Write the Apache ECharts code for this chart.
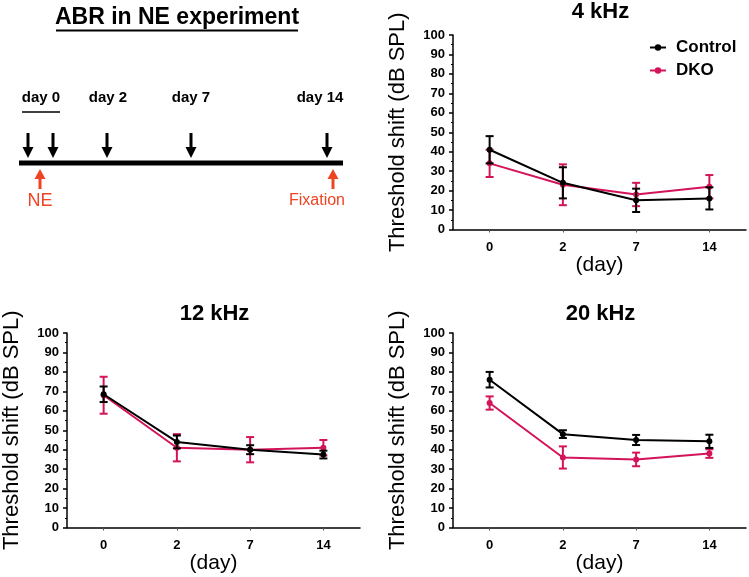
<!DOCTYPE html>
<html>
<head>
<meta charset="utf-8">
<script src="https://cdn.jsdelivr.net/npm/echarts@6/dist/echarts.min.js"></script>
<style>
html,body{margin:0;padding:0;background:#fff;}
#chart{width:749px;height:577px;}
</style>
</head>
<body>
<div id="chart"></div>
<script>
// ---- data ----
var days = ['0', '2', '7', '14'];
var yTicks = [0, 10, 20, 30, 40, 50, 60, 70, 80, 90, 100];
var panelTitles = ['4 kHz', '12 kHz', '20 kHz'];
var seriesNames = ['Control', 'DKO'];

var ctrl4 = [41, 24, 15, 16];
var ctrl4Err = [7, 8, 6, 5.7];
var dko4 = [34, 23, 18, 22];
var dko4Err = [7, 10.5, 6, 6];

var ctrl12 = [68.5, 44, 40, 37.5];
var ctrl12Err = [4, 3.3, 2.3, 2];
var dko12 = [68, 41, 40, 41];
var dko12Err = [9.5, 7, 6.5, 4];

var ctrl20 = [76, 48, 45, 44.3];
var ctrl20Err = [4, 2, 2.6, 3.4];
var dko20 = [64, 36, 35, 38];
var dko20Err = [3.4, 5.7, 3.5, 2.2];

var timelineLabels = ['day 0', 'day 2', 'day 7', 'day 14'];
// ---- end data ----

var BLACK = '#000000';
var PINK = '#d4145a';
var RED = '#ee4422';
var FONT = '"Liberation Sans", Arial, sans-serif';

var panels = [
  { title: panelTitles[0], ctrl: ctrl4, ctrlErr: ctrl4Err, dko: dko4, dkoErr: dko4Err, left: 453, top: 35, titleTop: 1 },
  { title: panelTitles[1], ctrl: ctrl12, ctrlErr: ctrl12Err, dko: dko12, dkoErr: dko12Err, left: 67, top: 333, titleTop: 303 },
  { title: panelTitles[2], ctrl: ctrl20, ctrlErr: ctrl20Err, dko: dko20, dkoErr: dko20Err, left: 453, top: 333, titleTop: 303 }
];

function errData(vals, errs) {
  return vals.map(function (v, i) { return [i, v - errs[i], v + errs[i]]; });
}

function errRender(color) {
  return function (params, api) {
    var x = api.value(0);
    var lo = api.coord([x, api.value(1)]);
    var hi = api.coord([x, api.value(2)]);
    var w = 4;
    var st = { stroke: color, lineWidth: 2 };
    return {
      type: 'group',
      children: [
        { type: 'line', shape: { x1: lo[0], y1: lo[1], x2: hi[0], y2: hi[1] }, style: st },
        { type: 'line', shape: { x1: lo[0] - w, y1: lo[1], x2: lo[0] + w, y2: lo[1] }, style: st },
        { type: 'line', shape: { x1: hi[0] - w, y1: hi[1], x2: hi[0] + w, y2: hi[1] }, style: st }
      ]
    };
  };
}

var grids = [], xAxes = [], yAxes = [], series = [], titles = [];
panels.forEach(function (p, k) {
  grids.push({ left: p.left, top: p.top, width: 293, height: 194.5 });
  xAxes.push({
    type: 'category', gridIndex: k, data: days, boundaryGap: true,
    name: '(day)', nameLocation: 'middle', nameGap: 25,
    nameTextStyle: { fontFamily: FONT, fontSize: 21, color: '#000' },
    axisLine: { lineStyle: { color: '#000', width: 1.5 } },
    axisTick: { show: true, alignWithLabel: true, length: 3, lineStyle: { color: '#555' } },
    axisLabel: { fontFamily: FONT, fontSize: 13, fontWeight: 'bold', color: '#000', margin: 11 },
    splitLine: { show: false }
  });
  yAxes.push({
    type: 'value', gridIndex: k, min: yTicks[0], max: yTicks[yTicks.length - 1], interval: 10,
    name: 'Threshold shift (dB SPL)', nameLocation: 'middle', nameGap: 44,
    nameTextStyle: { fontFamily: FONT, fontSize: 22, color: '#000' },
    axisLine: { show: true, lineStyle: { color: '#000', width: 1.5 } },
    axisTick: { show: true, length: 4, lineStyle: { color: '#000', width: 1.5 } },
    minorTick: { show: true, splitNumber: 2, length: 2, lineStyle: { color: '#000', width: 1 } },
    axisLabel: { fontFamily: FONT, fontSize: 13, fontWeight: 'bold', color: '#000', margin: 8 },
    splitLine: { show: false }
  });
  titles.push({
    text: p.title, left: p.left + 147.5, top: p.titleTop, textAlign: 'center', padding: 0,
    textStyle: { fontFamily: FONT, fontSize: 22, fontWeight: 'bold', color: '#000' }
  });
  series.push({
    type: 'custom', xAxisIndex: k, yAxisIndex: k, z: 2,
    renderItem: errRender(PINK), data: errData(p.dko, p.dkoErr), encode: { x: 0, y: [1, 2] }, silent: true
  });
  series.push({
    type: 'line', name: seriesNames[1], xAxisIndex: k, yAxisIndex: k, data: p.dko, z: 3,
    symbol: 'circle', symbolSize: 6, itemStyle: { color: PINK }, lineStyle: { color: PINK, width: 2 }
  });
  series.push({
    type: 'custom', xAxisIndex: k, yAxisIndex: k, z: 4,
    renderItem: errRender(BLACK), data: errData(p.ctrl, p.ctrlErr), encode: { x: 0, y: [1, 2] }, silent: true
  });
  series.push({
    type: 'line', name: seriesNames[0], xAxisIndex: k, yAxisIndex: k, data: p.ctrl, z: 5,
    symbol: 'circle', symbolSize: 6, itemStyle: { color: BLACK }, lineStyle: { color: BLACK, width: 2 }
  });
});

// schematic timeline (top-left)
var g = [];
g.push({ type: 'text', x: 177, y: 18, style: { text: 'ABR in NE experiment', font: 'bold 23px ' + FONT, fill: '#000', align: 'center', verticalAlign: 'middle' } });
g.push({ type: 'line', shape: { x1: 56, y1: 30.5, x2: 298, y2: 30.5 }, style: { stroke: '#000', lineWidth: 2 } });
var labelX = [41, 108, 191, 320];
timelineLabels.forEach(function (t, i) {
  g.push({ type: 'text', x: labelX[i], y: 98, style: { text: t, font: 'bold 15px ' + FONT, fill: '#000', align: 'center', verticalAlign: 'middle' } });
});
g.push({ type: 'line', shape: { x1: 22, y1: 112, x2: 60, y2: 112 }, style: { stroke: '#000', lineWidth: 1.5 } });
g.push({ type: 'line', shape: { x1: 19, y1: 163, x2: 343, y2: 163 }, style: { stroke: '#000', lineWidth: 5 } });
[28, 53, 107, 191, 327].forEach(function (x) {
  g.push({ type: 'line', shape: { x1: x, y1: 133, x2: x, y2: 150 }, style: { stroke: '#000', lineWidth: 3 } });
  g.push({ type: 'polygon', shape: { points: [[x - 5.5, 147], [x + 5.5, 147], [x, 158]] }, style: { fill: '#000' } });
});
[40, 333].forEach(function (x) {
  g.push({ type: 'line', shape: { x1: x, y1: 177, x2: x, y2: 189 }, style: { stroke: RED, lineWidth: 3 } });
  g.push({ type: 'polygon', shape: { points: [[x - 5.5, 179], [x + 5.5, 179], [x, 169]] }, style: { fill: RED } });
});
g.push({ type: 'text', x: 40, y: 201, style: { text: 'NE', font: '18px ' + FONT, fill: RED, align: 'center', verticalAlign: 'middle' } });
g.push({ type: 'text', x: 317, y: 201, style: { text: 'Fixation', font: '16px ' + FONT, fill: RED, align: 'center', verticalAlign: 'middle' } });

var chart = echarts.init(document.getElementById('chart'), null, { renderer: 'canvas' });
chart.setOption({
  backgroundColor: '#fff',
  animation: false,
  title: titles,
  legend: {
    data: seriesNames, orient: 'vertical', left: 644, top: 34, itemGap: 6,
    itemWidth: 16, itemHeight: 8,
    textStyle: { fontFamily: FONT, fontSize: 17, fontWeight: 'bold', color: '#000', padding: [0, 0, 0, 5] }
  },
  grid: grids,
  xAxis: xAxes,
  yAxis: yAxes,
  series: series,
  graphic: g
});
</script>
</body>
</html>
